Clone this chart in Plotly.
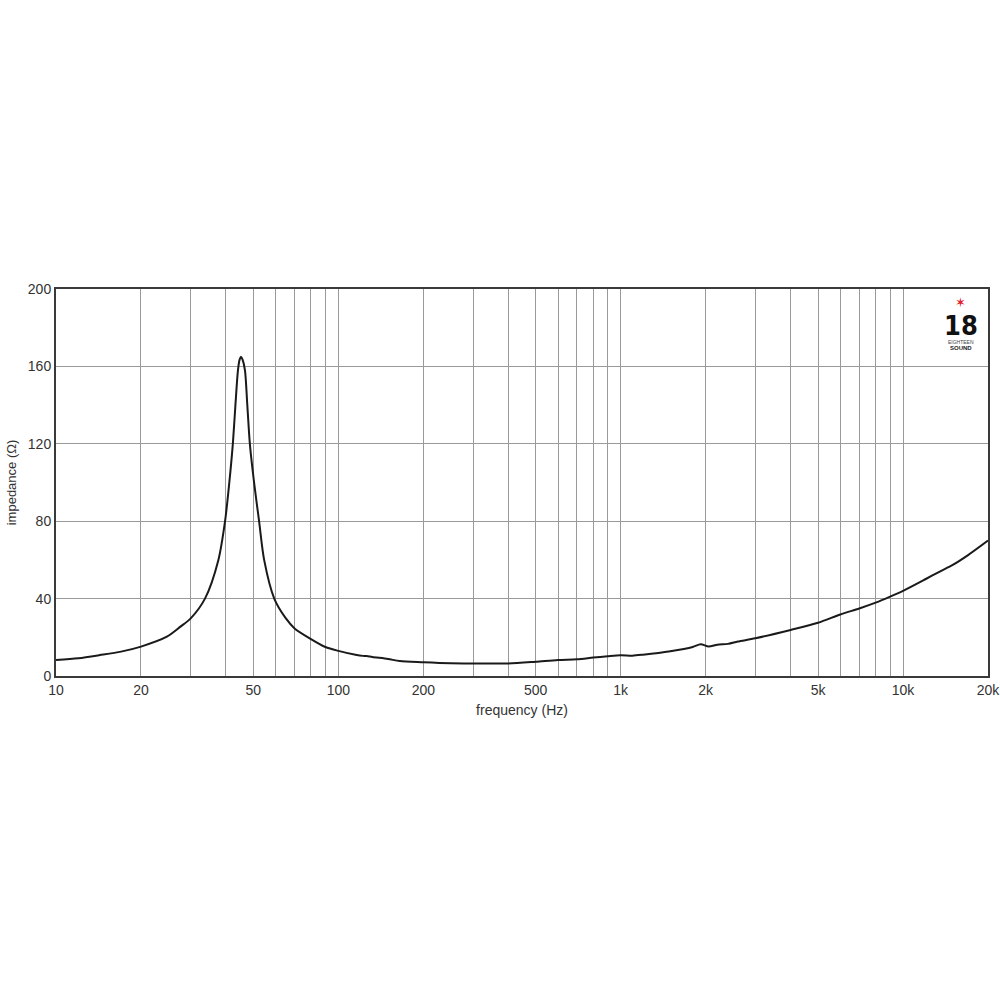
import plotly.graph_objects as go

freq_hz = [10, 12, 14.3, 17, 20, 24.7, 27.6, 30, 33.7, 37.6, 39.7, 41.1, 42.3, 43.2, 44.1, 44.7, 45.2,
           45.8, 46.7, 47.6, 48.6, 50.3, 52.4, 54.6, 59.3, 65, 70, 80, 90, 100, 115, 122, 126, 132,
           150, 165, 200, 250, 300, 400, 500, 600, 700, 800, 900, 1000, 1100, 1200, 1500,
           1800, 1920, 2050, 2200, 2400, 2600, 3000, 4000, 5000, 6000, 7000, 8000, 9000,
           10000, 12000, 13500, 15000, 17000, 20000]
impedance_ohm = [8.3, 9.2, 10.8, 12.6, 15.2, 20.3, 25.5, 29.8, 40, 60, 80, 100, 120, 140, 158, 163.5, 165,
                 163.5, 158, 140, 120, 100, 80, 60, 40, 30, 24.6, 19.1, 15, 13, 11, 10.4, 10.3, 9.8,
                 8.8, 7.7, 7.1, 6.6, 6.5, 6.5, 7.4, 8.3, 8.6, 9.5, 10.2, 10.7, 10.5, 11, 12.8,
                 15, 16.4, 15.2, 16.2, 16.6, 17.8, 19.5, 23.8, 27.5, 31.8, 34.9, 37.9, 41,
                 44, 50, 54, 57.4, 62.5, 70]

x_grid_vals = [10, 20, 30, 40, 50, 60, 70, 80, 90, 100, 200, 300, 400, 500, 600, 700, 800, 900,
               1000, 2000, 3000, 4000, 5000, 6000, 7000, 8000, 9000, 10000, 20000]
x_labels = {10: "10", 20: "20", 50: "50", 100: "100", 200: "200", 500: "500", 1000: "1k",
            2000: "2k", 5000: "5k", 10000: "10k", 20000: "20k"}
y_tick_vals = [0, 40, 80, 120, 160, 200]

fig = go.Figure()
fig.add_trace(go.Scatter(x=freq_hz, y=impedance_ohm, mode="lines",
                         line=dict(color="#1a1a1a", width=2, shape="spline", smoothing=0.8),
                         hoverinfo="skip", showlegend=False))

font = "Liberation Sans, Arial, sans-serif"
fig.update_layout(
    width=1000, height=1000,
    paper_bgcolor="white", plot_bgcolor="white",
    margin=dict(l=56, r=12, t=289, b=324, autoexpand=False),
    font=dict(family=font, size=14, color="#333333"),
    xaxis=dict(type="log", range=[1, 4.301035], tickvals=x_grid_vals,
               ticktext=[x_labels.get(v, "") for v in x_grid_vals],
               ticklabeloverflow="allow",
               showgrid=True, gridcolor="#9a9a9a", gridwidth=1, ticks="",
               showline=True, mirror=True, linecolor="#3a3a3a", linewidth=2,
               zeroline=False, tickfont=dict(size=14, color="#333333"),
               title=dict(text="frequency (Hz)", standoff=8, font=dict(size=14, color="#333333"))),
    yaxis=dict(range=[0, 200], tickvals=y_tick_vals, showgrid=True, gridcolor="#9a9a9a",
               gridwidth=1, ticks="", showline=True, mirror=True, linecolor="#3a3a3a",
               linewidth=2, zeroline=False, tickfont=dict(size=14, color="#333333"),
               title=dict(text="impedance (Ω)", standoff=8, font=dict(size=13, color="#333333"))),
)

# Logo
logo_x = 0.971
fig.add_annotation(xref="paper", yref="paper", x=logo_x, y=0.966, xanchor="center", yanchor="middle",
                   text="✶", showarrow=False, font=dict(size=13, color="#e0202a", family="DejaVu Sans"))
fig.add_annotation(xref="paper", yref="paper", x=logo_x, y=0.906, xanchor="center", yanchor="middle",
                   text="<b>18</b>", showarrow=False,
                   font=dict(size=27, color="#111111", family="DejaVu Sans Condensed, Liberation Sans"))
fig.add_annotation(xref="paper", yref="paper", x=logo_x, y=0.862, xanchor="center", yanchor="middle",
                   text="EIGHTEEN", showarrow=False, font=dict(size=5, color="#444444", family=font))
fig.add_annotation(xref="paper", yref="paper", x=logo_x, y=0.847, xanchor="center", yanchor="middle",
                   text="<b>SOUND</b>", showarrow=False, font=dict(size=6, color="#222222", family=font))

fig.write_html("out.html",
               config={"displayModeBar": False},
               post_script="document.body.style.margin='0px';"
                           "document.documentElement.style.overflow='hidden';")
